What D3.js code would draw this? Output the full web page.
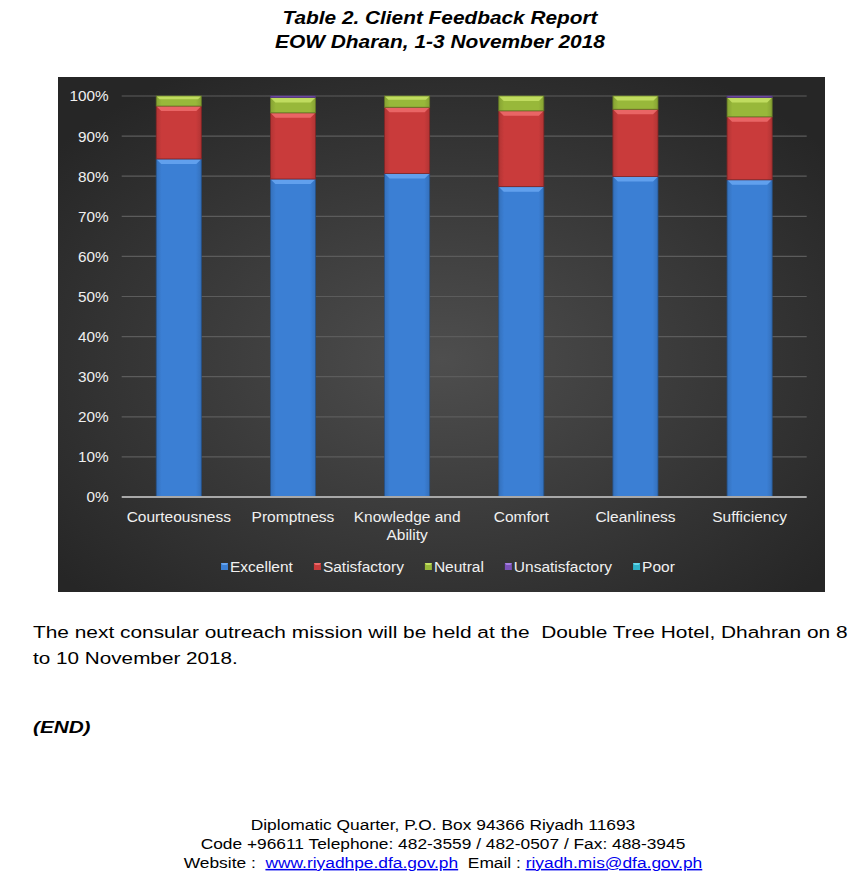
<!DOCTYPE html>
<html><head><meta charset="utf-8">
<script src="https://cdn.jsdelivr.net/npm/d3@7"></script>
<style>
html,body{margin:0;padding:0;background:#fff;}
svg{display:block;font-family:"Liberation Sans",Arial,sans-serif;}
</style></head>
<body>
<svg id="c" width="860" height="886"></svg>
<script>
const categories = ["Courteousness","Promptness","Knowledge and Ability","Comfort","Cleanliness","Sufficiency"];
const seriesNames = ["Excellent","Satisfactory","Neutral","Unsatisfactory","Poor"];
const excellent = [84.3, 79.3, 80.7, 77.4, 79.9, 79.1];
const satisfactory = [13.2, 16.5, 16.5, 18.9, 16.8, 15.7];
const neutral = [2.5, 3.8, 2.8, 3.7, 3.3, 4.8];
const unsatisfactory = [0, 0.4, 0, 0, 0, 0.4];
const poor = [0, 0, 0, 0, 0, 0];
const yTicks = [0,10,20,30,40,50,60,70,80,90,100];

const colors = ["#3b7fd4","#c93b3b","#98b83a","#7b52b8","#2fb2c9"];
const lights = ["#66a4f0","#ec6a6a","#c4e064","#a47fe0","#66d6ea"];

const svg = d3.select("#c");
const defs = svg.append("defs");
const bg = defs.append("radialGradient").attr("id","bg").attr("cx","50%").attr("cy","55%").attr("r","65%");
bg.append("stop").attr("offset","0%").attr("stop-color","#4e4e4e");
bg.append("stop").attr("offset","100%").attr("stop-color","#262626");
colors.forEach((c,i)=>{
  const g = defs.append("linearGradient").attr("id","g"+i).attr("x1","0").attr("x2","1").attr("y1","0").attr("y2","0");
  g.append("stop").attr("offset","0%").attr("stop-color",d3.color(c).darker(0.35));
  g.append("stop").attr("offset","12%").attr("stop-color",c);
  g.append("stop").attr("offset","88%").attr("stop-color",c);
  g.append("stop").attr("offset","100%").attr("stop-color",d3.color(c).darker(0.35));
});

// stretch a text horizontally to a target width, keeping its anchor point
function fitX(sel, target, ax) {
  const w = sel.node().getBBox().width;
  const k = target / w;
  sel.attr("transform", `translate(${ax},0) scale(${k},1) translate(${-ax},0)`);
}

// titles
const title = svg.append("g").attr("font-weight","bold").attr("font-style","italic").attr("font-size",18.5).attr("text-anchor","middle").attr("fill","#000");
fitX(title.append("text").attr("x",440).attr("y",24).text("Table 2. Client Feedback Report"), 316, 440);
fitX(title.append("text").attr("x",440).attr("y",48).text("EOW Dharan, 1-3 November 2018"), 331, 440);

// chart background
svg.append("rect").attr("x",58).attr("y",77).attr("width",767).attr("height",515).attr("fill","url(#bg)");

const x = d3.scaleBand().domain(categories).range([121.7,806.7]).paddingInner(0.605).paddingOuter(0.3025);
const y = d3.scaleLinear().domain([0,100]).range([497,96]);

// grid
const grid = svg.append("g");
grid.selectAll("line").data(yTicks.filter(d=>d>0)).join("line")
  .attr("x1",121.7).attr("x2",806.7).attr("y1",d=>y(d)).attr("y2",d=>y(d))
  .attr("stroke","#5c5c5c").attr("stroke-width",1.2);

// y axis
const yAxis = d3.axisLeft(y).tickValues(yTicks).tickFormat(d=>d+"%").tickSize(0).tickPadding(13);
const ya = svg.append("g").attr("transform","translate(121.7,0)").call(yAxis);
ya.select(".domain").remove();
ya.selectAll("text").attr("fill","#f0f0f0").attr("font-size",15.3).attr("font-family","'Liberation Sans',Arial,sans-serif");

// stacked data
const rows = categories.map((c,i)=>({cat:c, Excellent:excellent[i], Satisfactory:satisfactory[i], Neutral:neutral[i], Unsatisfactory:unsatisfactory[i], Poor:poor[i]}));
const stack = d3.stack().keys(seriesNames)(rows);

const bars = svg.append("g");
stack.forEach((layer,si)=>{
  const g = bars.append("g");
  layer.forEach(d=>{
    const h = y(d[0]) - y(d[1]);
    if (h <= 0) return;
    const x0 = x(d.data.cat), w = x.bandwidth(), top = y(d[1]);
    g.append("rect").attr("x",x0).attr("y",top).attr("width",w).attr("height",h)
      .attr("fill","url(#g"+si+")").attr("stroke",d3.color(colors[si]).darker(1.2)).attr("stroke-width",0.8);
    if (h > 6) {
      const b = Math.min(5, h/3);
      g.append("path").attr("d",`M${x0+0.5},${top+0.5}L${x0+w-0.5},${top+0.5}L${x0+w-b},${top+b}L${x0+b},${top+b}Z`)
        .attr("fill",lights[si]).attr("opacity",0.9);
    }
  });
});

// baseline
svg.append("line").attr("x1",121.7).attr("x2",806.7).attr("y1",y(0)).attr("y2",y(0)).attr("stroke","#a8a8a8").attr("stroke-width",2);

// x labels
const xl = svg.append("g").attr("fill","#f0f0f0").attr("font-size",15.5).attr("text-anchor","middle");
categories.forEach(c=>{
  const cx = x(c) + x.bandwidth()/2;
  const lines = c === "Knowledge and Ability" ? ["Knowledge and","Ability"] : [c];
  lines.forEach((l,i)=> xl.append("text").attr("x",cx).attr("y",522 + i*18).text(l));
});

// legend
const leg = svg.append("g").attr("font-size",15.5).attr("fill","#f0f0f0");
let lx = 221;
seriesNames.forEach((s,i)=>{
  leg.append("rect").attr("x",lx).attr("y",563).attr("width",7).attr("height",7).attr("fill",colors[i]);
  leg.append("path").attr("d",`M${lx},563L${lx+7},563L${lx+5.5},565L${lx+1.5},565Z`).attr("fill",lights[i]);
  const t = leg.append("text").attr("x",lx+9).attr("y",572).text(s);
  lx += 9 + t.node().getComputedTextLength() + 21;
});

// body text
const body = svg.append("g").attr("font-size",17).attr("fill","#000");
fitX(body.append("text").attr("x",33).attr("y",638).attr("xml:space","preserve").text("The next consular outreach mission will be held at the  Double Tree Hotel, Dhahran on 8"), 815, 33);
fitX(body.append("text").attr("x",33).attr("y",664).text("to 10 November 2018."), 205, 33);
fitX(body.append("text").attr("x",33).attr("y",733).attr("font-weight","bold").attr("font-style","italic").text("(END)"), 58, 33);

// footer
const ft = svg.append("g").attr("font-size",15).attr("fill","#000").attr("text-anchor","middle");
fitX(ft.append("text").attr("x",443).attr("y",830).text("Diplomatic Quarter, P.O. Box 94366 Riyadh 11693"), 385, 443);
fitX(ft.append("text").attr("x",443).attr("y",849).text("Code +96611 Telephone: 482-3559 / 482-0507 / Fax: 488-3945"), 485, 443);
const l3 = ft.append("text").attr("x",443).attr("y",868).attr("xml:space","preserve");
l3.append("tspan").text("Website :  ");
l3.append("tspan").attr("fill","#0000ee").attr("text-decoration","underline").text("www.riyadhpe.dfa.gov.ph");
l3.append("tspan").text("  Email : ");
l3.append("tspan").attr("fill","#0000ee").attr("text-decoration","underline").text("riyadh.mis@dfa.gov.ph");
fitX(l3, 519, 443);
</script>
</body></html>
